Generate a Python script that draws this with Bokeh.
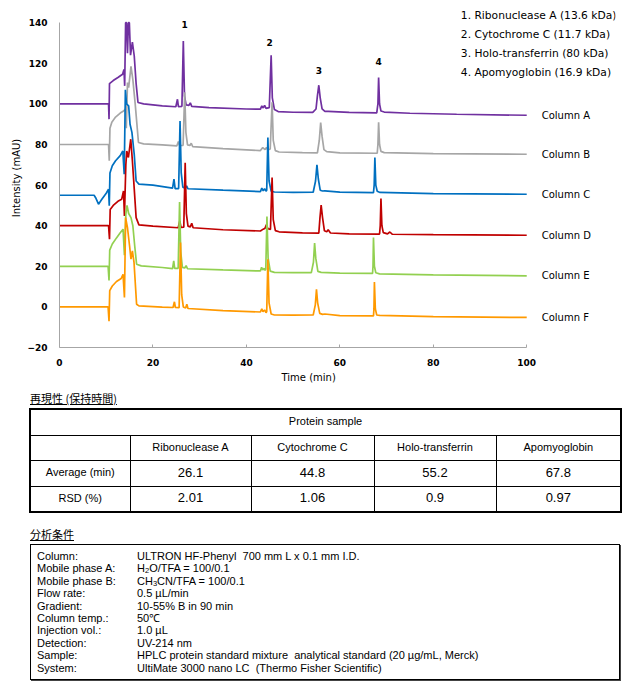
from bokeh.plotting import figure
from bokeh.models import ColumnDataSource, LabelSet, Div, FixedTicker, Range1d, Title, Spacer
from bokeh.layouts import column, row
from bokeh.core.properties import value
from bokeh.embed import file_html
from bokeh.resources import INLINE

# ---------------- chromatogram data (time min, intensity mAU) ----------------
# (peaks of Column A that leave the plot are read at the visible top, 140)
col_a = [(0, 100), (10.5, 100), (10.6, 92.5), (10.7, 110), (11.5, 111.5), (12.5, 113), (13.5, 114.6),
         (13.8, 117), (13.95, 108.9), (14.15, 140), (14.35, 140), (14.55, 125), (14.75, 140), (14.95, 140),
         (15.2, 124), (15.6, 130.4), (16.0, 123.6), (16.4, 110), (16.8, 100.7), (18, 100), (22, 99),
         (24.9, 98.6), (25.25, 102.3), (25.45, 98.7), (26.2, 98.8), (26.5, 131), (26.75, 104), (27.1, 99.5),
         (27.7, 99.3), (28.0, 100.5), (28.3, 98.8), (32, 98.2), (40, 97.5), (43.0, 97.4), (43.3, 99),
         (43.6, 98), (43.9, 99.3), (44.2, 97.8), (44.9, 98.2), (45.3, 124), (45.55, 103), (46.0, 97.2),
         (46.8, 96.2), (50, 95.9), (54.2, 95.8), (54.9, 97.5), (55.2, 104), (55.5, 109.2), (55.8, 103),
         (56.2, 97.5), (56.8, 96.3), (57.5, 96.3), (62, 95.8), (67.9, 95.6), (68.15, 100), (68.3, 113),
         (68.5, 100), (68.8, 96.5), (69.5, 96), (75, 95.4), (85, 94.9), (100, 94.4)]

col_b = [(0, 80), (10.5, 80), (10.65, 72), (10.8, 88), (11.2, 91), (12.0, 93.5), (13.0, 95.5), (13.7, 96.5),
         (14.1, 97.5), (14.3, 88), (14.55, 110.5), (14.8, 108), (15.3, 118.5), (15.7, 112), (16.2, 100),
         (16.9, 81), (18, 80.3), (22, 79.8), (25.1, 79.3), (25.45, 81.5), (25.7, 79.5), (26.45, 79.6),
         (26.8, 105.7), (27.05, 86), (27.4, 79.8), (27.9, 79.5), (28.2, 80.6), (28.5, 79), (35, 78), (43, 77),
         (43.5, 78.5), (44, 77.5), (44.3, 78.6), (44.6, 77.3), (45.1, 77.8), (45.5, 100.8), (45.75, 82),
         (46.2, 77), (47, 76.3), (52, 76), (55.2, 75.9), (55.6, 82), (55.9, 90.8), (56.2, 84), (56.6, 77.5),
         (57.2, 76.5), (60, 75.9), (68.0, 75.7), (68.15, 80), (68.3, 91), (68.5, 80), (68.8, 76.6),
         (69.5, 76), (80, 75.5), (100, 75.2)]

col_c = [(0, 55), (7.4, 55), (7.8, 53.5), (8.35, 50.6), (9.06, 53), (10.0, 56), (10.5, 58), (10.65, 49.8),
         (10.8, 66), (11.3, 69.5), (12, 72), (13, 74.5), (13.55, 76.8), (13.85, 65.4), (14.1, 107),
         (14.35, 100), (14.8, 99), (15.1, 90), (15.5, 86), (16.0, 75), (16.4, 62), (17, 60.5), (20, 60),
         (24.2, 58.5), (24.5, 63), (24.75, 58.3), (25.5, 58.3), (25.8, 91.6), (26.05, 66), (26.4, 59),
         (26.9, 58.5), (27.2, 59.6), (27.5, 58.2), (35, 57.5), (43, 56.8), (43.3, 58.5), (43.6, 57.2),
         (43.9, 58.2), (44.2, 57), (44.35, 57.5), (44.6, 83.4), (44.85, 62), (45.3, 57), (46, 56.6),
         (50, 56.4), (54.3, 56.5), (54.8, 62), (55.1, 70), (55.4, 63), (55.8, 57.5), (56.3, 57.1),
         (56.8, 57.2), (60, 56.5), (67.2, 56.3), (67.35, 60), (67.5, 73.6), (67.7, 60), (68, 57),
         (68.6, 56.4), (80, 55.8), (100, 55.5)]

col_d = [(0, 40), (10.5, 40), (10.7, 33.3), (10.85, 48), (11.5, 50), (12.5, 52), (13.3, 53), (13.7, 57.1),
         (13.9, 44.8), (14.2, 70), (14.4, 76.8), (14.75, 73.6), (15.25, 82.6), (15.6, 72), (16.0, 58),
         (16.4, 44), (17, 40.4), (20, 39.8), (25.4, 39), (25.75, 42.4), (26.0, 39.2), (26.6, 39.3),
         (26.9, 71), (27.15, 46), (27.5, 39.8), (28.0, 39.4), (28.3, 41.2), (28.6, 39), (35, 38), (43, 37.4),
         (43.6, 38.3), (44.0, 38.8), (44.3, 40.5), (44.6, 38.5), (45.15, 38.2), (45.5, 63.7), (45.75, 43),
         (46.2, 37.6), (47, 37), (52, 36.5), (55.5, 36.3), (55.75, 44), (56.0, 50.1), (56.3, 44),
         (56.7, 37.5), (57.2, 37), (57.5, 38), (58, 36.4), (62, 36), (68.5, 35.9), (68.65, 40), (68.8, 53.4),
         (69.0, 40), (69.3, 36.6), (70.2, 36), (70.7, 36.9), (71.2, 35.8), (80, 35.6), (100, 35.3)]

col_e = [(0, 20), (10.4, 20), (10.6, 13), (10.75, 28), (11.3, 31), (12.2, 34), (13.0, 36.5), (13.6, 38.3),
         (13.9, 25.5), (14.2, 45.7), (14.45, 50), (14.8, 46), (15.3, 44), (15.7, 40), (16.1, 30), (16.5, 21),
         (17.5, 20.2), (22, 19.4), (24.2, 18.9), (24.45, 22.7), (24.65, 19), (25.4, 19), (25.7, 51.7),
         (25.95, 27), (26.3, 19.5), (26.8, 19.2), (27.1, 20.3), (27.4, 18.8), (35, 18.2), (43, 17.7),
         (43.25, 19.5), (43.5, 18.2), (43.8, 19), (44.0, 18), (44.15, 18.5), (44.4, 44.5), (44.65, 24),
         (45.1, 17.6), (46, 17), (50, 16.9), (53.9, 16.9), (54.35, 22), (54.6, 31.4), (54.85, 24),
         (55.3, 17.5), (56, 17), (60, 16.6), (67.0, 16.5), (67.1, 20), (67.2, 34.2), (67.4, 20), (67.7, 16.8),
         (68.5, 16.3), (80, 15.8), (100, 15.3)]

col_f = [(0, 0), (10.4, 0), (10.6, -7), (10.75, 8), (11.3, 10.3), (12.2, 12.5), (13.2, 14), (13.6, 16),
         (13.9, 4.6), (14.15, 44), (14.55, 39), (15.0, 30), (15.3, 23.5), (15.6, 27.6), (15.95, 21.9),
         (16.5, 1.3), (17, 0.5), (22, -0.1), (24.3, -0.3), (24.6, 2.5), (24.8, -0.3), (25.6, -0.4),
         (25.9, 31.7), (26.15, 6), (26.5, 0), (27.0, -0.6), (27.25, 1.3), (27.5, -0.8), (35, -1.8), (43, -2.5),
         (43.3, -1), (43.55, -2.4), (43.9, -1.5), (44.2, -2.8), (44.35, -2.4), (44.6, 23.5), (44.85, 2),
         (45.3, -3.5), (46, -4), (50, -4.1), (54.3, -4), (54.75, 1), (55.0, 8.7), (55.25, 2), (55.7, -3.2),
         (56.3, -3.7), (56.8, -3.5), (60, -4.3), (67.2, -4.4), (67.3, -1), (67.4, 12.3), (67.6, -1),
         (67.9, -4), (68.5, -4.2), (80, -4.8), (100, -5.2)]

series_names = ["Column A", "Column B", "Column C", "Column D", "Column E", "Column F"]
series_colors = ["#7030A0", "#A6A6A6", "#0070C0", "#C00000", "#92D050", "#FF9900"]
series_data = [col_a, col_b, col_c, col_d, col_e, col_f]

peak_ids = ["1", "2", "3", "4"]
peak_label_t = [26.8, 45.0, 55.5, 68.3]
peak_label_i = [139.3, 130.4, 116.6, 121.0]

legend_texts = ["1. Ribonuclease A (13.6 kDa)", "2. Cytochrome C (11.7 kDa)",
                "3. Holo-transferrin (80 kDa)", "4. Apomyoglobin (16.9 kDa)"]
legend_i = [143.5, 134.0, 125.0, 115.6]

x_ticks = [0, 20, 40, 60, 80, 100]
y_ticks = [-20, 0, 20, 40, 60, 80, 100, 120, 140]

proteins = ["Ribonuclease A", "Cytochrome C", "Holo-transferrin", "Apomyoglobin"]
avg_min = ["26.1", "44.8", "55.2", "67.8"]
rsd_pct = ["2.01", "1.06", "0.9", "0.97"]

cond_labels = ["Column:", "Mobile phase A:", "Mobile phase B:", "Flow rate:", "Gradient:",
               "Column temp.:", "Injection vol.:", "Detection:", "Sample:", "System:"]
cond_values = ["ULTRON HF-Phenyl&nbsp; 700 mm L x 0.1 mm I.D.",
               "H<sub>2</sub>O/TFA = 100/0.1",
               "CH<sub>3</sub>CN/TFA = 100/0.1",
               "0.5 &micro;L/min",
               "10-55% B in 90 min",
               "50&#8451;",
               "1.0 &micro;L",
               "UV-214 nm",
               "HPLC protein standard mixture&nbsp; analytical standard (20 &micro;g/mL, Merck)",
               "UltiMate 3000 nano LC&nbsp; (Thermo Fisher Scientific)"]

# ---------------- chart ----------------
FONT = "DejaVu Sans"
p = figure(width=616, height=387, x_range=Range1d(0, 119), y_range=Range1d(-20, 147),
           output_backend="svg", toolbar_location=None,
           min_border_left=55, min_border_right=5, min_border_top=8, min_border_bottom=40)
p.outline_line_color = None
p.xgrid.visible = False
p.ygrid.visible = False
p.background_fill_color = "white"

end_t, end_i = [], []
for name, color, data in zip(series_names, series_colors, series_data):
    src = ColumnDataSource(dict(t=[d[0] for d in data], i=[d[1] for d in data]))
    p.line("t", "i", source=src, line_color=color, line_width=1.7)
    end_i.append(data[-1][1])
    end_t.append(103.2)

lab_src = ColumnDataSource(dict(t=end_t, i=end_i, text=series_names))
p.add_layout(LabelSet(x="t", y="i", text="text", source=lab_src, text_font=value(FONT),
                      text_font_size="10px", text_align="left", text_baseline="middle",
                      text_color="#000000"))

pk_src = ColumnDataSource(dict(t=peak_label_t, i=peak_label_i, text=peak_ids))
p.add_layout(LabelSet(x="t", y="i", text="text", source=pk_src, text_font=value(FONT),
                      text_font_size="9px", text_font_style="bold", text_align="center",
                      text_baseline="middle", text_color="#000000"))

lg_src = ColumnDataSource(dict(t=[85.9] * len(legend_texts), i=legend_i, text=legend_texts))
p.add_layout(LabelSet(x="t", y="i", text="text", source=lg_src, text_font=value(FONT),
                      text_font_size="10.7px", text_align="left", text_baseline="middle",
                      text_color="#000000"))

for ax in (p.xaxis, p.yaxis):
    ax.axis_line_color = "#A6A6A6"
    ax.major_tick_line_color = "#A6A6A6"
    ax.minor_tick_line_color = None
    ax.major_label_text_font = FONT
    ax.major_label_text_font_size = "9px"
    ax.major_label_text_font_style = "bold"
    ax.major_label_text_color = "#000000"
    ax.axis_label_text_font = FONT
    ax.axis_label_text_font_size = "10px"
    ax.axis_label_text_font_style = "normal"
    ax.axis_label_text_color = "#000000"

p.xaxis.ticker = FixedTicker(ticks=x_ticks)
p.yaxis.ticker = FixedTicker(ticks=y_ticks)
p.xaxis.bounds = (0, 100)
p.yaxis.bounds = (-20, 140)
p.xaxis.major_tick_in = 3
p.xaxis.major_tick_out = 0
p.yaxis.major_tick_in = 0
p.yaxis.major_tick_out = 0
p.xaxis.major_label_standoff = 11
p.yaxis.major_label_standoff = 12
p.yaxis.axis_label = "Intensity (mAU)"
p.yaxis.axis_label_standoff = 2

# x-axis title, placed under the 0-100 part of the axis
p.add_layout(Title(text="Time (min)", align="left", offset=222, standoff=3,
                   text_font=FONT, text_font_size="10px", text_font_style="normal",
                   text_color="#000000"), "below")

# ---------------- reproducibility table ----------------
td = "border:1px solid #000;text-align:center;vertical-align:middle;padding:0;"
row2 = f'<td style="{td}"></td>' + "".join(f'<td style="{td}">{n}</td>' for n in proteins)
row3 = f'<td style="{td}">Average (min)</td>' + "".join(
    f'<td style="{td}font-size:13px;">{v}</td>' for v in avg_min)
row4 = f'<td style="{td}">RSD (%)</td>' + "".join(
    f'<td style="{td}font-size:13px;">{v}</td>' for v in rsd_pct)

table_html = f'''
<div style="position:relative;width:620px;height:140px;color:#000;">
 <div style="position:absolute;left:30px;top:4px;font-family:'Noto Sans CJK JP';font-size:11px;
      line-height:14px;text-decoration:underline;">再現性 (保持時間)</div>
 <table style="position:absolute;left:29px;top:21px;width:591px;height:104px;border-collapse:collapse;
      border:2px solid #000;font-family:'Liberation Sans';font-size:11px;table-layout:fixed;">
  <colgroup><col style="width:100px"><col style="width:121px"><col style="width:123px">
  <col style="width:122px"><col style="width:125px"></colgroup>
  <tr style="height:26px"><td colspan="5" style="{td}">Protein sample</td></tr>
  <tr style="height:25px">{row2}</tr>
  <tr style="height:26px">{row3}</tr>
  <tr style="height:26px">{row4}</tr>
 </table>
</div>'''
div_table = Div(text=table_html, width=620, height=140, margin=0)

# ---------------- conditions ----------------
lines = "".join(
    f'<div style="height:12.4px;line-height:12.4px;white-space:nowrap;">'
    f'<span style="display:inline-block;width:100px;">{a}</span>{b}</div>'
    for a, b in zip(cond_labels, cond_values))
lines = lines.replace("<sub>", '<sub style="font-size:7.5px;line-height:0;vertical-align:-1px;">')
cond_html = f'''
<div style="position:relative;width:620px;height:160px;color:#000;">
 <div style="position:absolute;left:30px;top:0px;font-family:'Noto Sans CJK JP';font-size:11px;
      line-height:14px;text-decoration:underline;">分析条件</div>
 <div style="position:absolute;left:30px;top:17px;width:590px;height:136px;border:1px solid #000;
      box-shadow:1px 1px 0 #444;font-family:'Liberation Sans';font-size:11px;
      padding:5px 0 0 6px;box-sizing:border-box;">{lines}</div>
</div>'''
div_cond = Div(text=cond_html, width=620, height=160, margin=0)

layout = column(row(Spacer(width=4, height=387), p), div_table, div_cond, spacing=0)
open("out.html", "w").write(file_html(layout, INLINE))
